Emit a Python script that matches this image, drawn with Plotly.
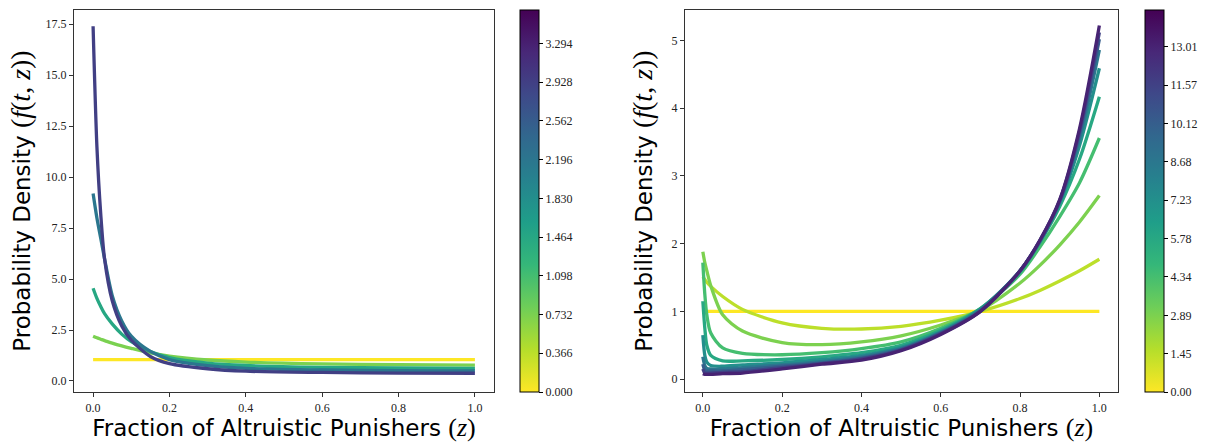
import plotly.graph_objects as go
from plotly.colors import sample_colorscale

# ---------------- Left panel data ----------------
z_left = [0, 0.01, 0.02, 0.03, 0.05, 0.075, 0.1, 0.15, 0.2, 0.3, 0.4, 0.6, 0.8, 1.0]
t_left = [0.0, 0.732, 1.464, 2.196, 2.928]
f_left = [
    [1.05, 1.05, 1.05, 1.05, 1.05, 1.05, 1.05, 1.05, 1.05, 1.05, 1.05, 1.05, 1.05, 1.05],
    [2.2, 2.12, 2.05, 1.98, 1.86, 1.72, 1.6, 1.38, 1.22, 1.03, 0.93, 0.84, 0.8, 0.78],
    [4.55, 4.05, 3.65, 3.3, 2.8, 2.3, 1.93, 1.45, 1.15, 0.88, 0.76, 0.67, 0.64, 0.62],
    [9.2, 8.0, 7.0, 6.0, 4.2, 2.95, 2.2, 1.45, 1.05, 0.75, 0.62, 0.54, 0.51, 0.50],
    [17.4, 11.5, 8.2, 6.0, 3.95, 2.7, 2.0, 1.2, 0.85, 0.6, 0.48, 0.42, 0.39, 0.38],
]
cbar_left_max = 3.61
cbar_left_ticks = [0.000, 0.366, 0.732, 1.098, 1.464, 1.830, 2.196, 2.562, 2.928, 3.294]
cbar_left_text = ["0.000", "0.366", "0.732", "1.098", "1.464", "1.830", "2.196", "2.562", "2.928", "3.294"]

# ---------------- Right panel data ----------------
z_right = [0, 0.005, 0.01, 0.02, 0.05, 0.1, 0.2, 0.3, 0.4, 0.5, 0.6, 0.7, 0.8, 0.85, 0.9, 0.95, 1.0]
t_right = [0.0, 1.45, 2.89, 4.34, 5.78, 7.23, 8.68, 10.12, 11.57, 13.01]
f_right = [
    [1.0, 1.0, 1.0, 1.0, 1.0, 1.0, 1.0, 1.0, 1.0, 1.0, 1.0, 1.0, 1.0, 1.0, 1.0, 1.0, 1.0],
    [1.51, 1.47, 1.43, 1.37, 1.22, 1.03, 0.83, 0.75, 0.74, 0.78, 0.87, 1.0, 1.19, 1.31, 1.45, 1.6, 1.77],
    [1.88, 1.72, 1.6, 1.38, 0.95, 0.71, 0.54, 0.51, 0.55, 0.64, 0.8, 1.02, 1.42, 1.68, 1.98, 2.32, 2.71],
    [1.72, 1.25, 0.95, 0.68, 0.46, 0.38, 0.36, 0.39, 0.45, 0.55, 0.75, 1.04, 1.55, 1.95, 2.4, 2.9, 3.56],
    [1.15, 0.75, 0.5, 0.35, 0.27, 0.27, 0.29, 0.33, 0.39, 0.5, 0.72, 1.04, 1.58, 2.02, 2.55, 3.25, 4.17],
    [0.65, 0.35, 0.25, 0.2, 0.19, 0.21, 0.24, 0.29, 0.35, 0.47, 0.7, 1.03, 1.6, 2.03, 2.6, 3.45, 4.59],
    [0.33, 0.2, 0.16, 0.15, 0.15, 0.17, 0.21, 0.26, 0.33, 0.45, 0.69, 1.02, 1.6, 2.04, 2.62, 3.55, 4.86],
    [0.22, 0.13, 0.12, 0.12, 0.12, 0.14, 0.19, 0.24, 0.31, 0.44, 0.68, 1.01, 1.6, 2.04, 2.63, 3.62, 5.02],
    [0.15, 0.09, 0.09, 0.09, 0.1, 0.11, 0.17, 0.23, 0.3, 0.43, 0.67, 1.0, 1.6, 2.05, 2.64, 3.66, 5.12],
    [0.08, 0.07, 0.07, 0.07, 0.08, 0.09, 0.15, 0.22, 0.28, 0.42, 0.66, 1.0, 1.6, 2.05, 2.65, 3.7, 5.22],
]
cbar_right_max = 14.4
cbar_right_ticks = [0.00, 1.45, 2.89, 4.34, 5.78, 7.23, 8.68, 10.12, 11.57, 13.01]
cbar_right_text = ["0.00", "1.45", "2.89", "4.34", "5.78", "7.23", "8.68", "10.12", "11.57", "13.01"]

# ---------------- Figure ----------------
W, H = 1211, 442
SERIF = "Liberation Serif"
SANS = "DejaVu Sans"

def px_x(a, b):
    return [a / W, b / W]

def px_y(top, bottom):
    return [1 - bottom / H, 1 - top / H]

fig = go.Figure()

def add_panel(zs, ts, fs, cmax, xa, ya):
    for t, f in zip(ts, fs):
        col = sample_colorscale("Viridis", [1 - t / cmax])[0]
        fig.add_trace(go.Scatter(
            x=zs, y=f, mode="lines", xaxis=xa, yaxis=ya,
            line=dict(color=col, width=3.3, shape="spline", smoothing=0.8),
            showlegend=False, hoverinfo="skip"))

add_panel(z_left, t_left, f_left, cbar_left_max, "x", "y")
add_panel(z_right, t_right, f_right, cbar_right_max, "x2", "y2")

def add_cbar(cmax, tickvals, ticktext, xpx, xa, ya):
    fig.add_trace(go.Scatter(
        x=[None], y=[None], mode="markers", xaxis=xa, yaxis=ya, showlegend=False,
        marker=dict(colorscale="Viridis_r", cmin=0, cmax=cmax, color=[0], showscale=True,
                    colorbar=dict(
                        x=xpx / W, xanchor="left", y=1 - (10 + 382 / 2) / H, yanchor="middle",
                        len=382 / H, lenmode="fraction", thickness=19, thicknessmode="pixels",
                        outlinewidth=1, outlinecolor="black", xpad=0, ypad=0,
                        ticks="outside", ticklen=4, tickcolor="black",
                        tickvals=tickvals, ticktext=ticktext,
                        tickfont=dict(family=SERIF, size=12, color="#222"))),
    ))

add_cbar(cbar_left_max, cbar_left_ticks, cbar_left_text, 520, "x", "y")
add_cbar(cbar_right_max, cbar_right_ticks, cbar_right_text, 1145, "x2", "y2")

MATH_X = 'font-family:Liberation Serif;font-size:26px'
MATH_Y = 'font-family:Liberation Serif;font-size:28px'
xtitle = 'Fraction of Altruistic Punishers <span style="%s">(<i>z</i>)</span>' % MATH_X
ytitle = 'Probability Density <span style="%s">(<i>f</i>(<i>t</i>, <i>z</i>))</span>' % MATH_Y

axis_common = dict(showline=True, mirror=True, linecolor="#333", linewidth=1.2,
                   ticks="outside", ticklen=4, tickcolor="#333", showgrid=False, zeroline=False,
                   tickfont=dict(family=SERIF, size=12, color="#222"), automargin=False)

TFONT = dict(family=SANS, size=23, color="black")

fig.update_layout(
    width=W, height=H, margin=dict(l=0, r=0, t=0, b=0),
    paper_bgcolor="white", plot_bgcolor="white", showlegend=False,
    xaxis=dict(domain=px_x(74, 494), range=[-0.05, 1.05], tickvals=[0, 0.2, 0.4, 0.6, 0.8, 1.0],
               tickformat=".1f", anchor="y",
               title=dict(text=xtitle, font=TFONT, standoff=9),
               **axis_common),
    yaxis=dict(domain=px_y(10, 392), range=[-0.54, 18.2],
               tickvals=[0, 2.5, 5, 7.5, 10, 12.5, 15, 17.5], tickformat=".1f", anchor="x",
               title=dict(text=ytitle, font=TFONT, standoff=8),
               **axis_common),
    xaxis2=dict(domain=px_x(685, 1118), range=[-0.045, 1.047], tickvals=[0, 0.2, 0.4, 0.6, 0.8, 1.0],
                tickformat=".1f", anchor="y2",
                title=dict(text=xtitle, font=TFONT, standoff=9),
                **axis_common),
    yaxis2=dict(domain=px_y(10, 392), range=[-0.19, 5.45], tickvals=[0, 1, 2, 3, 4, 5],
                tickformat="d", anchor="x2",
                title=dict(text=ytitle, font=TFONT, standoff=12),
                **axis_common),
)

fig.write_html("out.html")
